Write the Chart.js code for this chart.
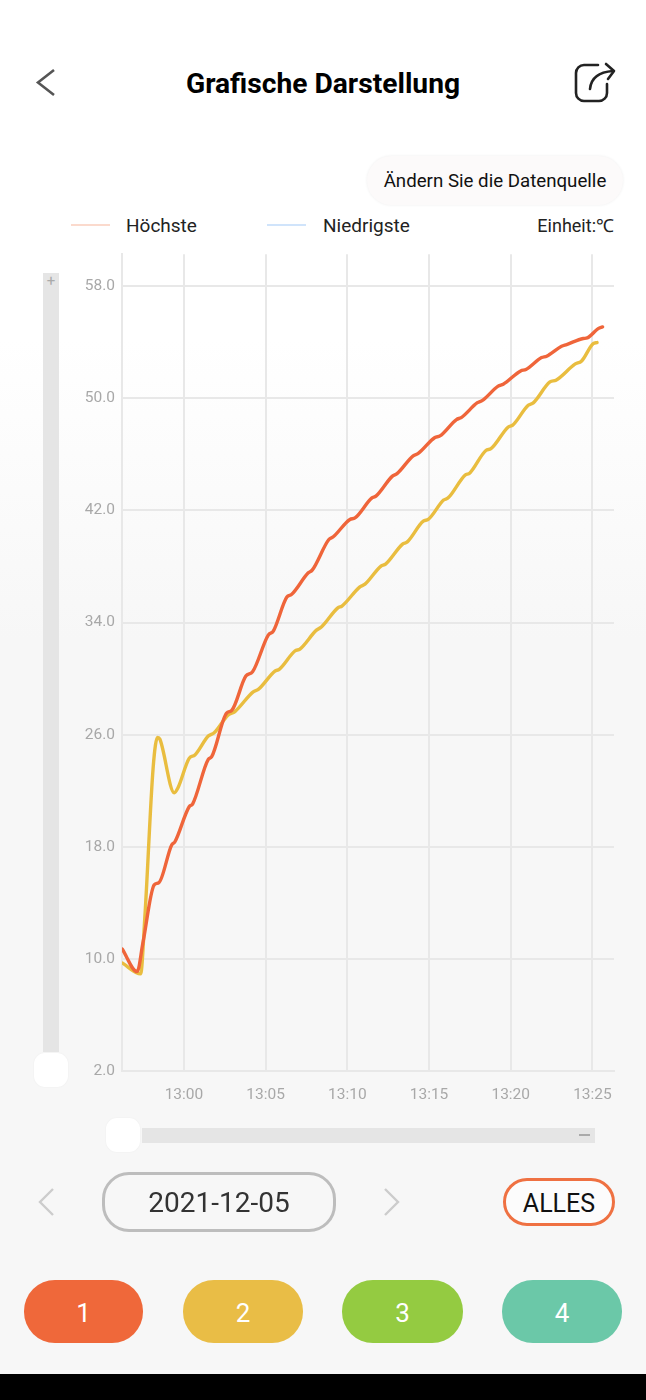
<!DOCTYPE html>
<html lang="de">
<head>
<meta charset="utf-8">
<title>Grafische Darstellung</title>
<script src="https://cdn.jsdelivr.net/npm/chart.js@4/dist/chart.umd.min.js"></script>
<style>
  html, body { margin: 0; padding: 0; }
  body {
    position: relative; width: 646px; height: 1400px; overflow: hidden;
    font-family: Roboto, sans-serif; color: #111;
    background: linear-gradient(#fff 340px, #f7f7f7 640px);
  }
  .abs { position: absolute; }
  .txt { position: absolute; white-space: nowrap; line-height: 1; }
  #title { left: 0; width: 646px; top: 70px; text-align: center; font-size: 28.2px; font-weight: 700; color: #000; }
  #source {
    left: 367px; top: 156px; width: 256px; height: 49px; border-radius: 25px;
    background: #fcfafa; box-shadow: 0 0 3px rgba(0,0,0,.07);
    font-size: 18.7px; line-height: 51px; text-align: center;
  }
  .legline { position: absolute; top: 224px; width: 39px; height: 2px; }
  .legtext { font-size: 19px; top: 216px; color: #222; }
  .track { position: absolute; background: #e5e5e5; }
  .handle {
    position: absolute; width: 34px; height: 34px; border-radius: 11px;
    background: #fff; box-shadow: 0 0 2px rgba(0,0,0,.05);
  }
  #chartBox { position: absolute; left: 0; top: 238px; width: 646px; height: 892px; }
  #datePill {
    left: 102px; top: 1172px; width: 234px; height: 60px; box-sizing: border-box;
    border: 3px solid #bdbdbd; border-radius: 27px;
    font-size: 28px; line-height: 56px; text-align: center; color: #333;
  }
  #allPill {
    left: 503px; top: 1178px; width: 112px; height: 48px; box-sizing: border-box;
    border: 3px solid #ef7142; border-radius: 24px; background: #fcfcfc;
    font-size: 25px; line-height: 46px; text-align: center; color: #111;
  }
  .probe {
    position: absolute; top: 1280px; height: 63px; border-radius: 31px;
    color: #fff; font-size: 26px; line-height: 66px; text-align: center;
  }
  #navBar { position: absolute; left: 0; top: 1374px; width: 646px; height: 26px; background: #000; }
</style>
</head>
<body>

<svg class="abs" style="left:30px;top:62px" width="32" height="40" fill="none">
  <path d="M24 8 L8 20.5 L24 33" stroke="#555" stroke-width="2.6"/>
</svg>
<div id="title" class="txt">Grafische Darstellung</div>
<svg class="abs" style="left:570px;top:58px" width="50" height="50" fill="none" stroke="#222" stroke-width="2.6" stroke-linecap="round" stroke-linejoin="round">
  <path d="M28 7 H14 a8 8 0 0 0 -8 8 V35 a8 8 0 0 0 8 8 H29 a8 8 0 0 0 8 -8 V26"/>
  <path d="M20 31 C21 20 28 14 43 13"/>
  <path d="M36 6 L44 13 L38 21"/>
</svg>

<div id="source" class="abs">Ändern Sie die Datenquelle</div>

<div class="legline" style="left:71px;background:#fbdacd"></div>
<div class="txt legtext" style="left:126px">Höchste</div>
<div class="legline" style="left:267px;background:#d0e4fb"></div>
<div class="txt legtext" style="left:323px">Niedrigste</div>
<div class="txt legtext" style="right:32px;font-size:18px;top:217px">Einheit:℃</div>

<div class="track" style="left:43px;top:273px;width:16px;height:779px"></div>
<div class="txt" style="left:43px;width:16px;top:274px;text-align:center;font-size:15px;color:#aaa">+</div>
<div class="handle" style="left:34px;top:1053px"></div>

<div id="chartBox"><canvas id="tempChart" width="646" height="892"></canvas></div>

<div class="track" style="left:142px;top:1128px;width:453px;height:15px"></div>
<div class="abs" style="left:579px;top:1134px;width:11px;height:1.5px;background:#aaa"></div>
<div class="handle" style="left:106px;top:1118px"></div>

<svg class="abs" style="left:34px;top:1184px" width="26" height="36" fill="none">
  <path d="M19 5 L6 18 L19 31" stroke="#ccc" stroke-width="2.4"/>
</svg>
<div id="datePill" class="abs">2021-12-05</div>
<svg class="abs" style="left:379px;top:1184px" width="26" height="36" fill="none">
  <path d="M6 5 L19 18 L6 31" stroke="#ccc" stroke-width="2.4"/>
</svg>
<div id="allPill" class="abs">ALLES</div>

<div class="probe" style="left:24px;width:119px;background:#ef683a">1</div>
<div class="probe" style="left:183px;width:120px;background:#e9bd46">2</div>
<div class="probe" style="left:342px;width:121px;background:#94cb41">3</div>
<div class="probe" style="left:502px;width:120px;background:#6bc8a8">4</div>

<div id="navBar"></div>

<script>
// minutes relative to 13:00 and temperature in degrees C
const highMinutes = [-3.78, -2.86, -2.51, -1.82, -1.53, -0.75, -0.55, 0.32, 0.53, 1.49, 1.70, 2.61, 2.92, 3.79, 4.20,
  5.16, 5.47, 6.30, 6.58, 7.61, 7.85, 8.87, 9.14, 10.16, 10.47, 11.49, 11.75, 12.76, 13.04, 14.03, 14.34, 15.36, 15.67,
  16.68, 16.97, 17.96, 18.27, 19.23, 19.54, 20.61, 20.93, 21.89, 22.20, 23.11, 23.42, 24.44, 24.68, 25.35, 25.62];
const highTemps = [10.71, 9.09, 11.14, 15.28, 15.44, 18.13, 18.36, 20.86, 21.05, 24.24, 24.43, 27.54, 27.72, 30.18, 30.49,
  33.11, 33.39, 35.82, 36.0, 37.55, 37.74, 39.93, 40.12, 41.36, 41.47, 42.88, 43.02, 44.45, 44.63, 45.90, 46.07, 47.21, 47.32,
  48.49, 48.63, 49.69, 49.85, 50.87, 51.01, 51.96, 52.06, 52.91, 53.01, 53.72, 53.84, 54.27, 54.31, 54.98, 55.10];

const lowMinutes = [-3.78, -2.65, -2.39, -1.88, -1.61, -1.47, -0.59, -0.37, 0.32, 0.67, 1.49, 1.85, 2.71, 3.12, 4.24, 4.55,
  5.57, 5.83, 6.79, 7.10, 8.11, 8.41, 9.42, 9.67, 10.77, 11.08, 12.06, 12.34, 13.38, 13.67, 14.65, 14.95, 15.89, 16.17,
  17.20, 17.50, 18.48, 18.79, 19.85, 20.12, 21.07, 21.38, 22.40, 22.77, 23.93, 24.34, 25.05, 25.28];
const lowTemps = [9.71, 8.93, 13.01, 23.71, 25.81, 25.67, 21.86, 22.19, 24.31, 24.55, 25.90, 26.14, 27.40, 27.65, 29.06, 29.23,
  30.54, 30.66, 31.97, 32.11, 33.46, 33.68, 35.05, 35.18, 36.55, 36.74, 38.03, 38.17, 39.60, 39.76, 41.24, 41.36, 42.74, 42.90,
  44.52, 44.68, 46.28, 46.41, 47.96, 48.09, 49.51, 49.68, 51.17, 51.30, 52.44, 52.67, 53.91, 53.98];

const timeTicks = [0, 5, 10, 15, 20, 25];
const tempTicks = [2, 10, 18, 26, 34, 42, 50, 58];

const toPoints = (xs, ys) => xs.map((x, i) => ({ x: x, y: ys[i] }));

const gridColor = '#e8e8e8';
const tickFont = { family: 'Roboto', size: 15.5 };
const tickColor = '#a8a8a8';

const lineStyle = {
  borderWidth: 3.4,
  pointRadius: 0,
  fill: false,
  cubicInterpolationMode: 'monotone',
  borderCapStyle: 'round',
  borderJoinStyle: 'round',
};

new Chart(document.getElementById('tempChart').getContext('2d'), {
  type: 'line',
  data: {
    datasets: [
      { label: 'Höchste', data: toPoints(highMinutes, highTemps), borderColor: '#ef653a', ...lineStyle },
      { label: 'Niedrigste', data: toPoints(lowMinutes, lowTemps), borderColor: '#e9bd3f', ...lineStyle },
    ],
  },
  options: {
    responsive: false,
    animation: false,
    events: [],
    layout: { padding: { top: 12, right: 32, left: 0, bottom: 0 } },
    plugins: { legend: { display: false }, tooltip: { enabled: false } },
    scales: {
      x: {
        type: 'linear',
        min: -3.79,
        max: 26.32,
        afterBuildTicks: (scale) => { scale.ticks = timeTicks.map((v) => ({ value: v })); },
        afterFit: (scale) => { scale.height = 59; },
        grid: { color: gridColor, lineWidth: 2, drawTicks: false },
        border: { color: gridColor, width: 2 },
        ticks: {
          padding: 15,
          maxRotation: 0,
          autoSkip: false,
          color: tickColor,
          font: tickFont,
          callback: (v) => {
            const m = v % 60;
            return '13:' + String(m).padStart(2, '0');
          },
        },
      },
      y: {
        min: 2,
        max: 60.28,
        afterBuildTicks: (scale) => { scale.ticks = tempTicks.map((v) => ({ value: v })); },
        afterFit: (scale) => { scale.width = 122; },
        grid: { color: gridColor, lineWidth: 2, drawTicks: false },
        border: { color: gridColor, width: 2 },
        ticks: {
          padding: 7,
          autoSkip: false,
          color: tickColor,
          font: tickFont,
          callback: (v) => v.toFixed(1),
        },
      },
    },
  },
});
</script>
</body>
</html>
